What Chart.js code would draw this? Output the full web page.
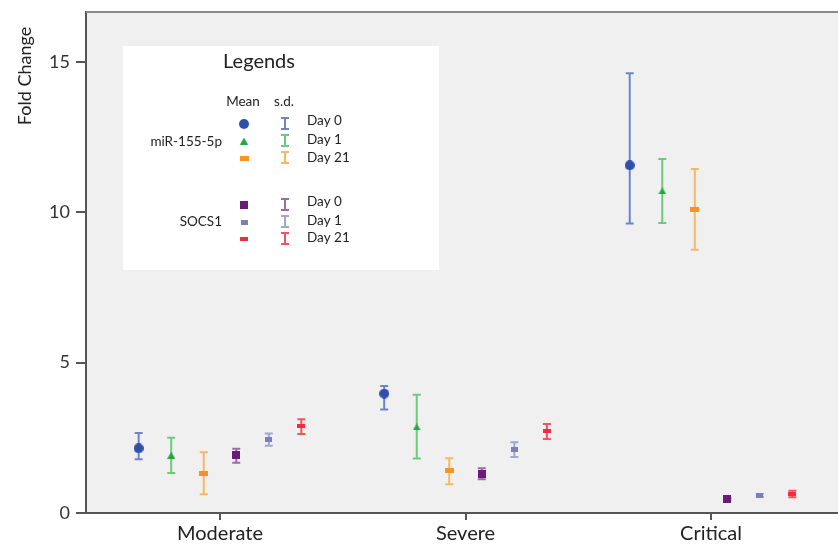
<!DOCTYPE html>
<html>
<head>
<meta charset="utf-8">
<script src="https://cdn.jsdelivr.net/npm/chart.js@4"></script>
<style>
  body { margin: 0; background: #fff; }
  #wrap { position: relative; width: 838px; height: 545px; }
</style>
</head>
<body>
<div id="wrap"><canvas id="myChart" width="838" height="545"></canvas></div>
<script>
// groups on the x axis
var categories = ["Moderate", "Severe", "Critical"];
var yTicks = [0, 5, 10, 15];

// mean and s.d. bounds, one value per category
var mirDay0 = [2.15, 3.97, 11.56];
var mirDay0Low = [1.79, 3.44, 9.63];
var mirDay0High = [2.66, 4.22, 14.62];

var mirDay1 = [1.92, 2.86, 10.71];
var mirDay1Low = [1.33, 1.81, 9.64];
var mirDay1High = [2.50, 3.93, 11.77];

var mirDay21 = [1.32, 1.40, 10.10];
var mirDay21Low = [0.62, 0.96, 8.75];
var mirDay21High = [2.02, 1.82, 11.44];

var socsDay0 = [1.92, 1.30, 0.47];
var socsDay0Low = [1.67, 1.12, 0.44];
var socsDay0High = [2.14, 1.49, 0.50];

var socsDay1 = [2.44, 2.11, 0.58];
var socsDay1Low = [2.24, 1.86, 0.53];
var socsDay1High = [2.64, 2.35, 0.63];

var socsDay21 = [2.88, 2.72, 0.63];
var socsDay21Low = [2.63, 2.46, 0.52];
var socsDay21High = [3.12, 2.96, 0.74];

var dayLabels = ["Day 0", "Day 1", "Day 21"];
var geneLabels = ["miR-155-5p", "SOCS1"];

// marker pictures
function makeMarker(kind, color) {
  var c = document.createElement("canvas");
  var w = 10, h = 10;
  if (kind == "bar") { w = 9; h = 5; }
  if (kind == "smallbar") { w = 7; h = 5; }
  if (kind == "tie") { w = 8; h = 4; }
  if (kind == "square") { w = 8; h = 8; }
  if (kind == "triangle") { w = 8; h = 7; }
  c.width = w; c.height = h;
  var x = c.getContext("2d");
  x.fillStyle = color;
  if (kind == "circle") {
    x.beginPath(); x.arc(5, 5, 5, 0, Math.PI * 2); x.fill();
  } else if (kind == "triangle") {
    x.beginPath(); x.moveTo(4, 0); x.lineTo(8, 7); x.lineTo(0, 7); x.closePath(); x.fill();
  } else {
    x.fillRect(0, 0, w, h);
  }
  return c;
}

var series = [
  { label: "miR-155-5p Day 0", mean: mirDay0, lo: mirDay0Low, hi: mirDay0High, color: "#2f4fa9", bar: "#6f84c8", marker: makeMarker("circle", "#2f4fa9") },
  { label: "miR-155-5p Day 1", mean: mirDay1, lo: mirDay1Low, hi: mirDay1High, color: "#21a843", bar: "#6acb79", marker: makeMarker("triangle", "#21a843") },
  { label: "miR-155-5p Day 21", mean: mirDay21, lo: mirDay21Low, hi: mirDay21High, color: "#f7941d", bar: "#f9b860", marker: makeMarker("bar", "#f7941d") },
  { label: "SOCS1 Day 0", mean: socsDay0, lo: socsDay0Low, hi: socsDay0High, color: "#6b1a78", bar: "#9d6aa8", marker: makeMarker("square", "#6b1a78") },
  { label: "SOCS1 Day 1", mean: socsDay1, lo: socsDay1Low, hi: socsDay1High, color: "#7a7fb8", bar: "#a3a6d0", marker: makeMarker("smallbar", "#7a7fb8") },
  { label: "SOCS1 Day 21", mean: socsDay21, lo: socsDay21Low, hi: socsDay21High, color: "#ef2d3f", bar: "#f2545f", marker: makeMarker("tie", "#ef2d3f") }
];

var datasets = series.map(function (s, k) {
  return {
    label: s.label,
    data: s.mean.map(function (v, i) { return { x: i + (k - 2.5) * 0.1325, y: v }; }),
    pointStyle: s.marker,
    pointRadius: 5,
    backgroundColor: s.color,
    borderColor: s.color
  };
});

function drawBar(ctx, x, top, bottom, color) {
  ctx.strokeStyle = color;
  ctx.lineWidth = 2;
  ctx.beginPath();
  ctx.moveTo(x, top); ctx.lineTo(x, bottom);
  ctx.moveTo(x - 4, top); ctx.lineTo(x + 4, top);
  ctx.moveTo(x - 4, bottom); ctx.lineTo(x + 4, bottom);
  ctx.stroke();
}

var plotBits = {
  id: "plotBits",
  beforeDraw: function (chart) {
    var a = chart.chartArea, ctx = chart.ctx;
    ctx.save();
    ctx.fillStyle = "#f0f0f0";
    ctx.fillRect(a.left, a.top, chart.width - a.left, a.bottom - a.top);
    ctx.restore();
  },
  beforeDatasetsDraw: function (chart) {
    var ctx = chart.ctx, y = chart.scales.y;
    ctx.save();
    series.forEach(function (s, k) {
      var meta = chart.getDatasetMeta(k);
      meta.data.forEach(function (pt, i) {
        drawBar(ctx, pt.x, y.getPixelForValue(s.hi[i]), y.getPixelForValue(s.lo[i]), s.bar);
      });
    });
    ctx.restore();
  },
  afterDraw: function (chart) {
    var a = chart.chartArea, ctx = chart.ctx;
    ctx.save();
    // plot is cut at the right edge: no frame line there
    ctx.fillStyle = "#f0f0f0";
    ctx.fillRect(a.right - 3, a.top, chart.width - a.right + 3, a.bottom - a.top - 1);
    ctx.strokeStyle = "#8a8a8a";
    ctx.lineWidth = 2;
    ctx.beginPath(); ctx.moveTo(a.left, a.top); ctx.lineTo(chart.width, a.top); ctx.stroke();

    // y title
    ctx.fillStyle = "#222";
    ctx.font = "18px Lato";
    ctx.textAlign = "center";
    ctx.textBaseline = "middle";
    ctx.translate(25, 76);
    ctx.rotate(-Math.PI / 2);
    ctx.fillText("Fold Change", 0, 0);
    ctx.restore();

    // legend box
    ctx.save();
    ctx.fillStyle = "#fff";
    ctx.fillRect(123, 46, 316, 224);
    ctx.fillStyle = "#222";
    ctx.textBaseline = "middle";
    ctx.font = "20px Lato";
    ctx.textAlign = "center";
    ctx.fillText("Legends", 259, 62);
    ctx.font = "13.5px Lato";
    ctx.fillText("Mean", 243, 102);
    ctx.fillText("s.d.", 284, 102);
    ctx.textAlign = "right";
    ctx.fillText(geneLabels[0], 222, 142);
    ctx.fillText(geneLabels[1], 222, 222);
    ctx.textAlign = "left";
    var rows = [124, 141, 158, 205, 222, 239];
    var textRows = [121, 140, 158, 202, 221, 238];
    series.forEach(function (s, k) {
      var m = s.marker;
      ctx.drawImage(m, 244 - m.width / 2, rows[k] - m.height / 2);
      drawBar(ctx, 285, rows[k] - 6, rows[k] + 5, s.bar);
      ctx.fillStyle = "#222";
      ctx.fillText(dayLabels[k % 3], 307, textRows[k]);
    });
    ctx.restore();
  }
};

new Chart("myChart", {
  type: "scatter",
  data: { datasets: datasets },
  options: {
    responsive: false,
    animation: false,
    devicePixelRatio: 1,
    layout: { autoPadding: false, padding: { top: 12, right: 0, bottom: 0, left: 0 } },
    plugins: { legend: { display: false }, tooltip: { enabled: false } },
    scales: {
      x: {
        type: "linear",
        min: -0.5458,
        max: 2.517,
        afterBuildTicks: function (s) { s.ticks = categories.map(function (c, i) { return { value: i }; }); },
        afterFit: function (s) { s.height = 32; s.paddingLeft = 0; s.paddingRight = 0; },
        ticks: {
          callback: function (v) { return categories[v]; },
          font: { family: "Lato", size: 20 },
          color: "#222",
          padding: 2,
          maxRotation: 0
        },
        grid: { drawOnChartArea: false, tickLength: 7, color: "#555", lineWidth: 2 },
        border: { color: "#555", width: 2 }
      },
      y: {
        min: 0,
        max: 16.66,
        afterBuildTicks: function (s) { s.ticks = yTicks.map(function (v) { return { value: v }; }); },
        afterFit: function (s) { s.width = 86; s.paddingTop = 0; s.paddingBottom = 0; },
        ticks: {
          font: { family: "Lato", size: 18 },
          color: "#333",
          padding: 6
        },
        grid: { drawOnChartArea: false, tickLength: 10, color: "#555", lineWidth: 2 },
        border: { color: "#555", width: 2 }
      }
    }
  },
  plugins: [plotBits]
});
</script>
</body>
</html>
